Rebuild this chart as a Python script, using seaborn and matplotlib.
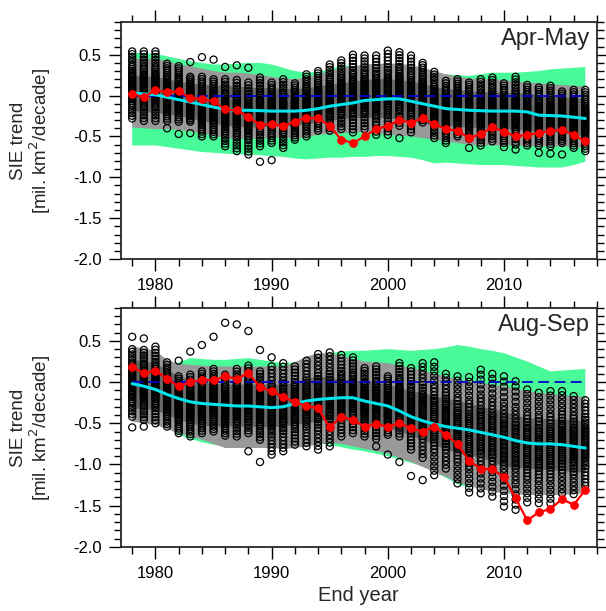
import numpy as np
import pandas as pd
import matplotlib
matplotlib.use("Agg")
import matplotlib.pyplot as plt
import seaborn as sns
from matplotlib.ticker import MultipleLocator, FormatStrFormatter

sns.set_style("ticks")
plt.rcParams["font.family"] = ["Liberation Sans", "DejaVu Sans"]
plt.rcParams["axes.unicode_minus"] = False

years = list(range(1978, 2018))

# ---------------- Apr-May ----------------
obs_am = [0.02, -0.02, 0.065, 0.04, 0.05, -0.025, -0.045, -0.07, -0.17, -0.18,
          -0.26, -0.36, -0.35, -0.37, -0.32, -0.27, -0.28, -0.37, -0.54, -0.58,
          -0.50, -0.41, -0.37, -0.30, -0.33, -0.28, -0.35, -0.41, -0.43, -0.52,
          -0.47, -0.39, -0.44, -0.50, -0.48, -0.46, -0.43, -0.42, -0.48, -0.56]
mean_am = [0.03, 0.02, 0.01, -0.02, -0.05, -0.08, -0.11, -0.14, -0.17, -0.18,
           -0.18, -0.185, -0.19, -0.19, -0.19, -0.18, -0.16, -0.13, -0.11, -0.09,
           -0.06, -0.05, -0.04, -0.04, -0.07, -0.10, -0.13, -0.16, -0.17, -0.18,
           -0.185, -0.19, -0.19, -0.19, -0.20, -0.24, -0.245, -0.25, -0.265, -0.28]
green_hi_am = [0.52, 0.52, 0.51, 0.48, 0.45, 0.42, 0.40, 0.38, 0.38, 0.39,
               0.40, 0.40, 0.38, 0.34, 0.30, 0.28, 0.29, 0.32, 0.37, 0.36,
               0.35, 0.34, 0.34, 0.34, 0.33, 0.30, 0.28, 0.26, 0.25, 0.24,
               0.26, 0.28, 0.28, 0.28, 0.29, 0.30, 0.32, 0.33, 0.34, 0.35]
green_lo_am = [-0.61, -0.61, -0.61, -0.63, -0.65, -0.67, -0.69, -0.70, -0.71, -0.72,
               -0.72, -0.73, -0.74, -0.75, -0.77, -0.78, -0.77, -0.76, -0.76, -0.75,
               -0.75, -0.74, -0.74, -0.75, -0.76, -0.79, -0.83, -0.82, -0.83, -0.84,
               -0.85, -0.85, -0.85, -0.86, -0.87, -0.88, -0.88, -0.88, -0.85, -0.81]
light_hi_am = [0.45, 0.45, 0.45, 0.42, 0.38, 0.36, 0.33, 0.30, 0.28, 0.28,
               0.27, 0.25, 0.23, 0.21, 0.20, 0.22, 0.26, 0.30, 0.34, 0.36,
               0.38, 0.39, 0.39, 0.39, 0.37, 0.34, 0.30, 0.26, 0.23, 0.21,
               0.20, 0.20, 0.19, 0.17, 0.16, 0.15, 0.14, 0.13, 0.12, 0.11]
light_lo_am = [-0.39, -0.40, -0.41, -0.41, -0.42, -0.44, -0.46, -0.49, -0.52, -0.53,
               -0.53, -0.53, -0.52, -0.51, -0.53, -0.51, -0.48, -0.47, -0.46, -0.45,
               -0.45, -0.46, -0.48, -0.49, -0.50, -0.52, -0.54, -0.56, -0.58, -0.60,
               -0.61, -0.61, -0.61, -0.61, -0.62, -0.62, -0.62, -0.62, -0.63, -0.64]
dark_hi_am = [0.24, 0.235, 0.23, 0.20, 0.17, 0.15, 0.13, 0.125, 0.12, 0.11,
              0.10, 0.09, 0.09, 0.08, 0.08, 0.09, 0.11, 0.13, 0.15, 0.17,
              0.19, 0.20, 0.20, 0.19, 0.17, 0.14, 0.11, 0.08, 0.07, 0.05,
              0.045, 0.04, 0.035, 0.03, 0.02, 0.00, -0.01, -0.02, -0.03, -0.04]
dark_lo_am = [-0.19, -0.20, -0.21, -0.23, -0.25, -0.28, -0.31, -0.34, -0.37, -0.38,
              -0.39, -0.39, -0.38, -0.38, -0.37, -0.35, -0.33, -0.31, -0.29, -0.28,
              -0.27, -0.27, -0.28, -0.29, -0.31, -0.34, -0.37, -0.37, -0.38, -0.39,
              -0.40, -0.41, -0.41, -0.42, -0.43, -0.45, -0.45, -0.46, -0.48, -0.50]
# extent of each year's column of ensemble members
memb_top_am = [0.54, 0.54, 0.54, 0.39, 0.36, 0.23, 0.23, 0.20, 0.20, 0.19,
               0.16, 0.22, 0.16, 0.20, 0.15, 0.26, 0.30, 0.38, 0.43, 0.50,
               0.49, 0.49, 0.55, 0.53, 0.49, 0.40, 0.29, 0.18, 0.20, 0.16,
               0.20, 0.22, 0.15, 0.23, 0.13, 0.10, 0.12, 0.05, 0.07, 0.07]
memb_bot_am = [-0.28, -0.31, -0.31, -0.31, -0.32, -0.32, -0.50, -0.50, -0.62, -0.68,
               -0.72, -0.62, -0.58, -0.64, -0.54, -0.50, -0.43, -0.43, -0.41, -0.45,
               -0.41, -0.48, -0.48, -0.37, -0.45, -0.33, -0.52, -0.58, -0.50, -0.53,
               -0.61, -0.56, -0.58, -0.60, -0.61, -0.61, -0.62, -0.58, -0.64, -0.68]
out_yr_am = [1981, 1982, 1983, 1983, 1984, 1985, 1986, 1987, 1988, 1989, 1990,
             2001, 2007, 2010, 2011, 2013, 2014, 2015]
out_val_am = [-0.40, -0.47, 0.41, -0.46, 0.47, 0.44, 0.35, 0.37, 0.34, -0.81, -0.79,
              -0.52, -0.64, -0.63, -0.66, -0.70, -0.71, -0.72]

# ---------------- Aug-Sep ----------------
obs_as = [0.18, 0.11, 0.14, 0.04, -0.05, 0.00, 0.03, 0.02, 0.07, 0.04,
          0.11, -0.06, -0.11, -0.18, -0.24, -0.29, -0.32, -0.55, -0.42, -0.46,
          -0.54, -0.51, -0.54, -0.50, -0.56, -0.60, -0.54, -0.64, -0.75, -0.96,
          -1.05, -1.06, -1.15, -1.41, -1.68, -1.58, -1.54, -1.42, -1.49, -1.31]
mean_as = [-0.02, -0.05, -0.09, -0.15, -0.20, -0.24, -0.26, -0.27, -0.28, -0.29,
           -0.29, -0.30, -0.31, -0.30, -0.26, -0.23, -0.21, -0.20, -0.19, -0.19,
           -0.23, -0.26, -0.29, -0.35, -0.42, -0.47, -0.51, -0.54, -0.56, -0.58,
           -0.61, -0.64, -0.67, -0.71, -0.74, -0.75, -0.75, -0.76, -0.78, -0.80]
green_hi_as = [0.15, 0.15, 0.15, 0.15, 0.24, 0.29, 0.28, 0.27, 0.27, 0.28,
               0.29, 0.27, 0.25, 0.23, 0.24, 0.27, 0.32, 0.35, 0.37, 0.38,
               0.38, 0.39, 0.40, 0.39, 0.38, 0.39, 0.40, 0.42, 0.45, 0.43,
               0.40, 0.38, 0.35, 0.30, 0.25, 0.19, 0.13, 0.14, 0.15, 0.16]
green_lo_as = [-0.45, -0.47, -0.50, -0.55, -0.64, -0.69, -0.73, -0.76, -0.78, -0.76,
               -0.74, -0.74, -0.74, -0.74, -0.74, -0.74, -0.75, -0.76, -0.79, -0.82,
               -0.84, -0.87, -0.90, -0.94, -0.98, -1.02, -1.09, -1.16, -1.24, -1.28,
               -1.25, -1.22, -1.20, -1.18, -1.16, -1.15, -1.14, -1.13, -1.12, -1.10]
light_hi_as = [0.43, 0.41, 0.38, 0.27, 0.22, 0.21, 0.20, 0.19, 0.19, 0.19,
               0.19, 0.19, 0.19, 0.19, 0.24, 0.31, 0.35, 0.35, 0.32, 0.28,
               0.25, 0.24, 0.23, 0.20, 0.17, 0.14, 0.10, 0.07, 0.03, 0.01,
               -0.01, -0.03, -0.05, -0.08, -0.11, -0.13, -0.14, -0.16, -0.17, -0.18]
light_lo_as = [-0.48, -0.50, -0.52, -0.57, -0.62, -0.66, -0.70, -0.75, -0.80, -0.80,
               -0.80, -0.80, -0.80, -0.81, -0.80, -0.78, -0.76, -0.74, -0.75, -0.78,
               -0.81, -0.84, -0.87, -0.92, -0.97, -1.03, -1.09, -1.15, -1.22, -1.26,
               -1.30, -1.33, -1.35, -1.36, -1.37, -1.37, -1.37, -1.37, -1.36, -1.35]
dark_hi_as = [0.27, 0.25, 0.23, 0.15, 0.07, 0.03, -0.01, -0.02, -0.03, -0.03,
              -0.03, -0.03, -0.03, -0.03, -0.01, 0.03, 0.07, 0.05, 0.03, 0.02,
              0.01, -0.01, -0.03, -0.07, -0.11, -0.13, -0.17, -0.20, -0.23, -0.26,
              -0.30, -0.33, -0.36, -0.40, -0.44, -0.445, -0.45, -0.455, -0.46, -0.48]
dark_lo_as = [-0.32, -0.33, -0.34, -0.40, -0.46, -0.50, -0.53, -0.54, -0.54, -0.54,
              -0.54, -0.55, -0.55, -0.54, -0.52, -0.50, -0.48, -0.46, -0.47, -0.48,
              -0.50, -0.52, -0.56, -0.60, -0.65, -0.70, -0.76, -0.82, -0.86, -0.89,
              -0.92, -0.97, -1.03, -1.04, -1.05, -1.06, -1.07, -1.08, -1.09, -1.10]
memb_top_as = [0.40, 0.39, 0.43, 0.24, 0.07, 0.09, 0.13, 0.16, 0.09, 0.16,
               0.20, 0.13, 0.19, 0.23, 0.19, 0.26, 0.34, 0.36, 0.33, 0.30,
               0.17, 0.19, 0.07, 0.23, 0.17, 0.23, 0.24, 0.10, 0.07, 0.06,
               0.15, 0.10, 0.07, 0.01, -0.09, -0.13, -0.11, -0.11, -0.17, -0.22]
memb_bot_as = [-0.42, -0.46, -0.50, -0.54, -0.62, -0.66, -0.62, -0.60, -0.65, -0.66,
               -0.62, -0.70, -0.88, -0.84, -0.76, -0.78, -0.82, -0.78, -0.66, -0.62,
               -0.66, -0.69, -0.64, -0.66, -0.82, -0.92, -1.13, -1.05, -1.23, -1.34,
               -1.35, -1.39, -1.51, -1.55, -1.46, -1.47, -1.47, -1.35, -1.36, -1.26]
out_yr_as = [1978, 1978, 1979, 1979, 1982, 1983, 1984, 1985, 1986, 1987, 1988, 1988,
             1989, 1989, 1990, 1999, 2000, 2001, 2002, 2003]
out_val_as = [0.55, -0.55, 0.53, -0.54, 0.26, 0.37, 0.45, 0.55, 0.72, 0.70, 0.62, -0.84,
              0.39, -0.97, 0.30, -0.78, -0.88, -0.97, -1.14, -1.19]

# relative position of members inside a column (0 = lowest, 1 = highest)
member_pos = [0.0, 0.04, 0.08, 0.12, 0.16, 0.20, 0.23, 0.26, 0.29, 0.32, 0.34,
              0.36, 0.38, 0.40, 0.42, 0.44, 0.46, 0.48, 0.50, 0.52, 0.54, 0.56,
              0.58, 0.60, 0.62, 0.64, 0.66, 0.68, 0.71, 0.74, 0.77, 0.80, 0.84,
              0.88, 0.92, 0.96, 1.0]


def members(top, bot, out_yr, out_val):
    rows = []
    for yr, t, b in zip(years, top, bot):
        for p in member_pos:
            rows.append((yr, b + p * (t - b)))
    rows += list(zip(out_yr, out_val))
    return pd.DataFrame(rows, columns=["year", "trend"])


panels = [
    dict(name="Apr-May", obs=obs_am, mean=mean_am, ghi=green_hi_am, glo=green_lo_am,
         lhi=light_hi_am, llo=light_lo_am, dhi=dark_hi_am, dlo=dark_lo_am,
         memb=members(memb_top_am, memb_bot_am, out_yr_am, out_val_am)),
    dict(name="Aug-Sep", obs=obs_as, mean=mean_as, ghi=green_hi_as, glo=green_lo_as,
         lhi=light_hi_as, llo=light_lo_as, dhi=dark_hi_as, dlo=dark_lo_as,
         memb=members(memb_top_as, memb_bot_as, out_yr_as, out_val_as)),
]

fig = plt.figure(figsize=(6.06, 6.11), dpi=100)
axes = [fig.add_axes([0.199, 0.576, 0.786, 0.388]),
        fig.add_axes([0.199, 0.105, 0.786, 0.391])]

for ax, p in zip(axes, panels):
    ax.fill_between(years, p["glo"], p["ghi"], facecolor="#48fa98", edgecolor="none", zorder=1)
    ax.fill_between(years, p["llo"], p["lhi"], facecolor="#999999", edgecolor="none", zorder=1.5)
    ax.fill_between(years, p["dlo"], p["dhi"], facecolor="#686868", edgecolor="none", zorder=1.6)

    # ensemble members as open circles
    sns.scatterplot(data=p["memb"], x="year", y="trend", ax=ax, marker="o", s=26,
                    color="black", linewidth=0.9, zorder=3, legend=False)
    pts = ax.collections[-1]
    pts.set_facecolor("none")
    pts.set_edgecolor("black")

    ax.plot([1978, 2017], [0, 0], color="#0000cd", lw=1.3, ls=(0, (6, 3)), zorder=4)

    df = pd.DataFrame({"year": years, "mean": p["mean"], "obs": p["obs"]})
    sns.lineplot(data=df, x="year", y="mean", ax=ax, color="#00e5ee", lw=2.2,
                 errorbar=None, zorder=5)
    sns.lineplot(data=df, x="year", y="obs", ax=ax, color="red", lw=1.6, marker="o",
                 markersize=5.5, markeredgecolor="red", errorbar=None, zorder=6)

    ax.set_xlim(1977, 2018)
    ax.set_ylim(-2.0, 0.9)
    ax.xaxis.set_major_locator(MultipleLocator(10))
    ax.xaxis.set_minor_locator(MultipleLocator(2))
    ax.yaxis.set_major_locator(MultipleLocator(0.5))
    ax.yaxis.set_minor_locator(MultipleLocator(0.1))
    ax.yaxis.set_major_formatter(FormatStrFormatter("%.1f"))
    ax.tick_params(which="both", direction="out", top=True, right=True,
                   labelsize=12, width=1.0, colors="black")
    ax.tick_params(which="major", length=8.5, pad=5)
    ax.tick_params(which="minor", length=5)
    for s in ax.spines.values():
        s.set_linewidth(1.3)
        s.set_visible(True)

    ax.set_ylabel("SIE trend\n[mil. km$^2$/decade]", fontsize=13.5, linespacing=1.0)
    ax.yaxis.set_label_coords(-0.142, 0.5)
    ax.set_xlabel("")
    ax.text(0.985, 0.975, p["name"], transform=ax.transAxes, ha="right", va="top",
            fontsize=17, zorder=10)

axes[1].set_xlabel("End year", fontsize=14.5, labelpad=4)

fig.savefig("out.png", dpi=100)
